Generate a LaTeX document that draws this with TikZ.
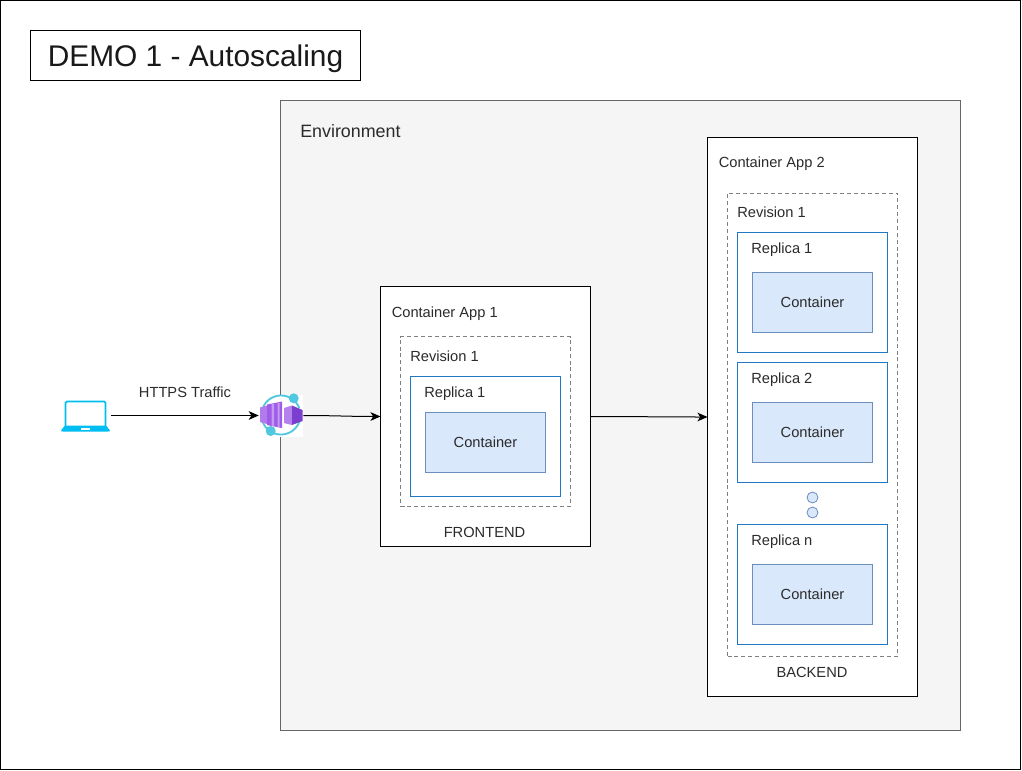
\documentclass[tikz,border=0pt]{standalone}
\usepackage{fontspec}
\setmainfont{Liberation Sans}
\usetikzlibrary{arrows.meta}
\definecolor{txt}{HTML}{2B2B2B}
\definecolor{envfill}{HTML}{F5F5F5}
\definecolor{envline}{HTML}{666666}
\definecolor{blueline}{HTML}{1F78C1}
\definecolor{contfill}{HTML}{DAE8FC}
\definecolor{contline}{HTML}{6C8EBF}
\definecolor{dashline}{HTML}{808080}
\definecolor{laptop}{HTML}{00BEF2}
\definecolor{ringc}{HTML}{50C8E0}
\definecolor{purpA}{HTML}{A05BE8}
\definecolor{purpB}{HTML}{7B3FD0}
\definecolor{purpC}{HTML}{C39BF0}
\tikzset{
  x=0.75pt,y=-0.75pt,
  box/.style={draw,rectangle,inner sep=0pt,outer sep=0pt,line width=0.75pt},
  appbox/.style={box,draw=black,fill=white},
  revbox/.style={box,draw=dashline,dashed,dash pattern=on 3pt off 2.2pt,fill=white,line width=0.6pt},
  repbox/.style={box,draw=blueline,fill=white},
  contbox/.style={box,draw=contline,fill=contfill,font=\fontsize{11pt}{13pt}\selectfont,text=txt},
  lbl/.style={anchor=base west,inner sep=0pt,text=txt,font=\fontsize{11pt}{13pt}\selectfont},
  clbl/.style={anchor=base,inner sep=0pt,text=txt,font=\fontsize{11pt}{13pt}\selectfont},
  dotc/.style={draw=contline,fill=contfill,circle,minimum size=8.2pt,inner sep=0pt,line width=0.6pt},
  conn/.style={line width=0.75pt,draw=black,-{Stealth[length=7.5pt,width=6.5pt,inset=2pt]}},
}
\newcommand{\bx}[6]{\node[#1,minimum width=#4*0.75pt,minimum height=#5*0.75pt] (#2) at (#3) {#6};}
\begin{document}
\begin{tikzpicture}
\useasboundingbox (0,0) rectangle (1022,771);
\fill[white] (0,0) rectangle (1022,771);
\node[box,draw=black,minimum width=1020*0.75pt,minimum height=769*0.75pt] (frame) at (510.5,385) {};
\node[box,draw=black,minimum width=330*0.75pt,minimum height=50*0.75pt,text height=16.5pt,text depth=0pt,font=\fontsize{22.4pt}{25pt}\selectfont,text=black!90] (title) at (195.5,55.5) {DEMO 1 - Autoscaling};
\node[box,draw=envline,fill=envfill,minimum width=680*0.75pt,minimum height=630*0.75pt] (env) at (620.5,415.5) {};
\node[anchor=base west,inner sep=0pt,text=txt,font=\fontsize{13.4pt}{15pt}\selectfont] (envl) at (300,137) {Environment};

% Frontend
\bx{appbox}{app1}{485.5,416.5}{210}{260}{}
\node[lbl] (app1l) at (391.5,317) {Container App 1};
\bx{revbox}{rev1}{485.5,421.5}{170}{170}{}
\node[lbl] (rev1l) at (410,361) {Revision 1};
\bx{repbox}{rep1}{485.5,436.5}{150}{120}{}
\node[lbl] (rep1l) at (424,397) {Replica 1};
\bx{contbox}{c1}{485.5,442.5}{120}{60}{Container}
\node[clbl] (front) at (484.5,537) {FRONTEND};

% Backend
\bx{appbox}{app2}{812.5,417}{210}{559}{}
\node[lbl] (app2l) at (718.5,167) {Container App 2};
\bx{revbox}{rev2}{812.5,424.5}{170}{463}{}
\node[lbl] (rev2l) at (737,217) {Revision 1};
\bx{repbox}{rep21}{812.5,292.5}{150}{120}{}
\node[lbl] (rep21l) at (751,253) {Replica 1};
\bx{contbox}{c21}{812.5,302.5}{120}{60}{Container}
\bx{repbox}{rep22}{812.5,422.5}{150}{120}{}
\node[lbl] (rep22l) at (751,383) {Replica 2};
\bx{contbox}{c22}{812.5,432.5}{120}{60}{Container}
\node[dotc] (d1) at (812.5,497.5) {};
\node[dotc] (d2) at (812.5,512.5) {};
\bx{repbox}{rep2n}{812.5,584.5}{150}{120}{}
\node[lbl] (rep2nl) at (751,545) {Replica n};
\bx{contbox}{c2n}{812.5,594.5}{120}{60}{Container}
\node[clbl] (back) at (812,677) {BACKEND};

% Laptop icon
\node[inner sep=0pt,minimum width=50*0.75pt,minimum height=32*0.75pt] (lap) at (85.5,415.5) {};
\draw[laptop,line width=1.4pt,rounded corners=1pt] (65.5,427) -- (65.5,401.5) -- (105.5,401.5) -- (105.5,427);
\fill[laptop,rounded corners=0.8pt] (65,425.5) -- (106,425.5) -- (110.5,431) -- (109,431.5) -- (62,431.5) -- (60.5,431) -- cycle;
\fill[white] (81,427.5) rectangle (89.5,429.5);

% Ingress icon
\node[inner sep=0pt,minimum width=44*0.75pt,minimum height=44*0.75pt] (ing) at (281,415.5) {};
\fill[white] (260,395) rectangle (303,437);
\draw[ringc,line width=1.4pt] plot[domain=200:340,samples=40] ({281+19.5*cos(\x)},{415+19.5*sin(\x)});
\draw[ringc,line width=1.4pt] plot[domain=20:160,samples=40] ({281+19.5*cos(\x)},{415+19.5*sin(\x)});
\fill[ringc] (293.7,398.3) circle (5);
\fill[ringc] (270.7,431) circle (5);
\fill[purpC!50!purpA] (260,407.5) -- (267,405.5) -- (267,424) -- (260,422) -- cycle;
\fill[purpA] (267,404.5) -- (282,401.5) -- (282,428) -- (267,425) -- cycle;
\fill[purpC] (271.5,404) -- (274,403.5) -- (274,426) -- (271.5,425.5) -- cycle;
\fill[purpC] (277.5,403) -- (279.5,402.5) -- (279.5,427) -- (277.5,426.5) -- cycle;
\fill[purpC!60!purpA] (284,408) -- (292,405.5) -- (292,425) -- (284,423) -- cycle;
\fill[purpB] (292,405.5) -- (302.5,410) -- (302.5,421) -- (292,425) -- cycle;

% Connectors
\draw[conn] (lap.east) -- (ing.west);
\draw[conn] (ing.east) to[out=0,in=180] (app1.west);
\draw[conn] (app1.east) to[out=0,in=180] (app2.west);
\node[clbl] (https) at (185,397) {HTTPS Traffic};
\end{tikzpicture}
\end{document}
